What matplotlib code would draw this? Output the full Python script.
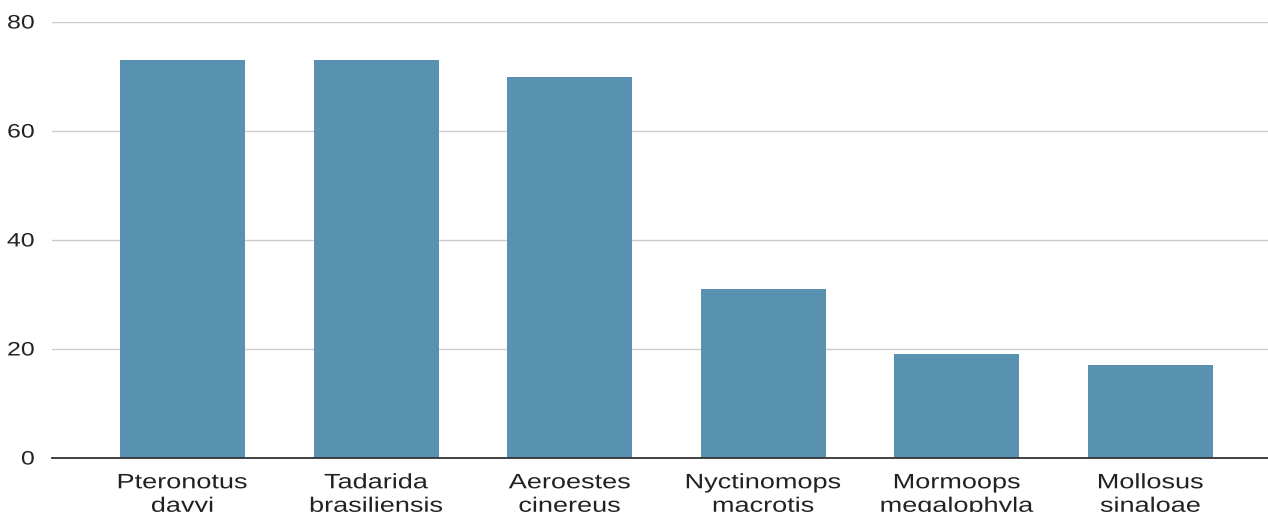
import matplotlib
matplotlib.use("Agg")
import matplotlib.pyplot as plt
from matplotlib.patheffects import AbstractPathEffect
from matplotlib.transforms import Affine2D

species = ["Pteronotus\ndavyi", "Tadarida\nbrasiliensis", "Aeroestes\ncinereus",
           "Nyctinomops\nmacrotis", "Mormoops\nmegalophyla", "Mollosus\nsinaloae"]
counts = [73, 73, 70, 31, 19, 17]
yticks = [0, 20, 40, 60, 80]

plt.rcParams["font.family"] = ["Liberation Sans", "DejaVu Sans"]


class Stretch(AbstractPathEffect):
    # widen glyphs horizontally, the reference font is broader than Arial
    def __init__(self, sx, anchor="center"):
        super().__init__()
        self.sx = sx
        self.anchor = anchor

    def draw_path(self, renderer, gc, tpath, affine, rgbFace=None):
        bb = tpath.get_extents(affine)
        cx = bb.x1 if self.anchor == "right" else (bb.x0 + bb.x1) / 2
        t = affine + Affine2D().translate(-cx, 0).scale(self.sx, 1).translate(cx, 0)
        renderer.draw_path(gc, tpath, t, rgbFace)


fig = plt.figure(figsize=(12.68, 5.12), dpi=100)
ax = fig.add_axes([52/1268, 1 - 458/512, 1 - 52/1268, (458 - 22)/512])

ax.bar(range(len(species)), counts, width=0.646, color="#5991b0", zorder=3)

ax.set_ylim(0, 80)
ax.set_xlim(-0.674, 5.607)
ax.set_yticks(yticks)
ax.set_xticks(range(len(species)))
ax.set_xticklabels(species, fontsize=15, linespacing=1.3)
ax.tick_params(axis="y", length=0, pad=12.5, labelsize=14)
ax.tick_params(axis="x", length=0, pad=11)
for t in ax.get_yticklabels():
    t.set_color("#222222")
    t.set_path_effects([Stretch(1.28, "right")])
for t in ax.get_xticklabels():
    t.set_color("#222222")
    t.set_path_effects([Stretch(1.3)])

ax.grid(axis="y", color="#cccccc", linewidth=1.0, zorder=0)
for s in ["top", "right", "left"]:
    ax.spines[s].set_visible(False)
ax.spines["bottom"].set_color("#333333")
ax.spines["bottom"].set_linewidth(1.3)
ax.spines["bottom"].set_zorder(4)

fig.savefig("out.png", dpi=100, facecolor="white")
